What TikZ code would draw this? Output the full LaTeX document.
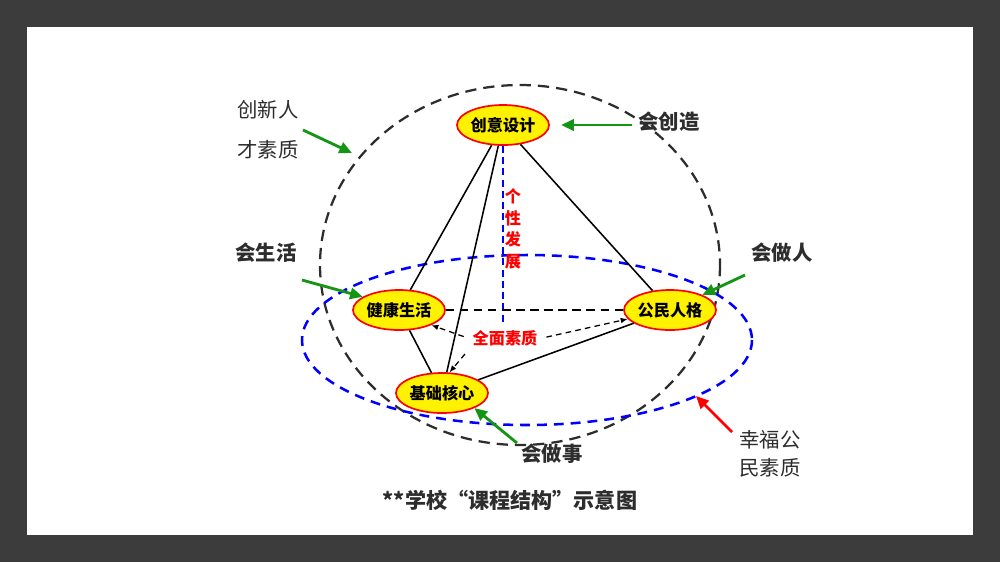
\documentclass[tikz,border=0pt]{standalone}
\usepackage{fontspec}
\setmainfont{Noto Sans CJK SC}
\usetikzlibrary{arrows.meta,shapes.geometric}
\definecolor{frame}{RGB}{60,60,60}
\definecolor{ink}{RGB}{45,45,45}
\definecolor{leaf}{RGB}{20,150,20}
\tikzset{
	kern/.style={ellipse,draw=red,line width=1.2pt,fill=yellow,minimum width=2.3cm,minimum height=1cm,inner sep=0pt,font=\fontsize{11.5}{12}\selectfont\bfseries},
	lab/.style={text=ink,font=\fontsize{14.5}{16}\selectfont\bfseries},
	note/.style={text=ink,font=\fontsize{14.5}{16}\selectfont},
	pull/.style={leaf,line width=2pt,-{Triangle[length=9pt,width=8pt]}},
	hint/.style={dash pattern=on 4pt off 3pt,line width=.9pt,shorten <=3pt,-{Latex[length=5pt,width=4pt]}}
}

\begin{document}
\begin{tikzpicture}[x=0.025cm,y=-0.025cm]
	\fill[frame] (0,0) rectangle (1000,562);
	\fill[white] (27,27) rectangle (973,535);
	% spheres
	\draw[ink,line width=1.6pt,dash pattern=on 8pt off 5pt] (520,265) ellipse [x radius=200,y radius=180];
	\draw[blue,line width=1.8pt,dash pattern=on 7pt off 5pt] (527,340) ellipse [x radius=225,y radius=85];
	\path
	(503,323) coordinate (base)
	(303,130) coordinate (cxfrom) (352,153) coordinate (cxto)
	(632,125) coordinate (czfrom)
	(302,280) coordinate (shfrom)
	(745,275) coordinate (zrfrom)
	(517,443) coordinate (zsfrom)
	(732,432) coordinate (xffrom) (696,396) coordinate (xfto)
	;
	\node[kern] (sj) at (503,125) {创意设计};
	\node[kern] (jk) at (399,310) {健康生活};
	\node[kern] (gm) at (670,310) {公民人格};
	\node[kern] (jc) at (442,393) {基础核心};
	\draw[blue,line width=1.2pt,dash pattern=on 5pt off 3pt] (sj.south) -- (base);
	\draw[line width=1.1pt] (sj) -- (jk) (sj) -- (jc) (sj) -- (gm) (jk) -- (jc) (jc) -- (gm);
	\draw[line width=1.1pt,dash pattern=on 6pt off 4pt] (jk.east) -- (gm.west);
	\node[red,align=center,font=\fontsize{11.5}{15.5}\selectfont\bfseries] (gx) at (513,229) {个\\性\\发\\展};
	\node[red,font=\fontsize{11.5}{12}\selectfont\bfseries] (qm) at (505,338) {全面素质};
	\draw[hint] (qm.west) -- (jk.-25);
	\draw[hint] (qm.east) -- (gm.192);
	\draw[hint] (qm.south west) -- (jc.70);
	% labels
	\node[note] (cx1) at (268,110) {创新人};
	\node[note] (cx2) at (268,150) {才素质};
	\node[lab] (cz) at (669,122) {会创造};
	\node[lab] (sh) at (266,253) {会生活};
	\node[lab] (zr) at (782,253) {会做人};
	\node[lab] (zs) at (552,454) {会做事};
	\node[note] (xf1) at (770,440) {幸福公};
	\node[note] (xf2) at (770,468) {民素质};
	\draw[pull] (cxfrom) -- (cxto);
	\draw[pull,shorten >=8pt] (czfrom) -- (sj.east);
	\draw[pull] (shfrom) -- (jk.160);
	\draw[pull] (zrfrom) -- (gm.25);
	\draw[pull] (zsfrom) -- (jc.-25);
	\draw[pull,red] (xffrom) -- (xfto);
	\node[text=ink,font=\fontsize{15}{16}\selectfont\bfseries] (cap) at (510,500) {**学校“课程结构”示意图};
\end{tikzpicture}
\end{document}
